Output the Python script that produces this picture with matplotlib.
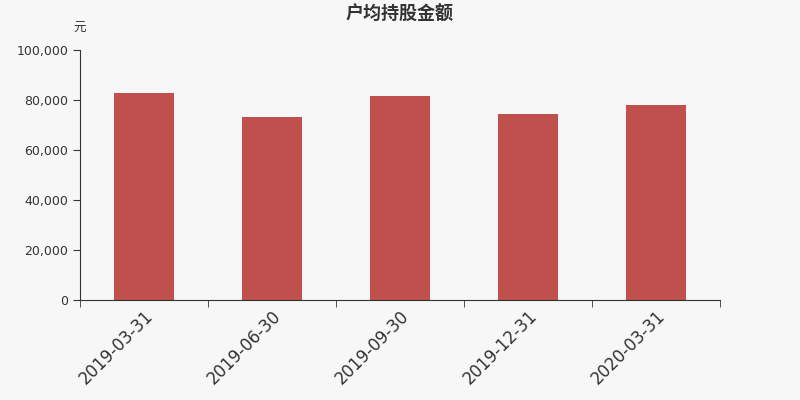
import matplotlib.pyplot as plt
from matplotlib.ticker import FuncFormatter, FixedLocator
import numpy as np

plt.rcParams['font.family'] = ['Noto Sans CJK SC', 'DejaVu Sans']

dates = ['2019-03-31', '2019-06-30', '2019-09-30', '2019-12-31', '2020-03-31']
amount = [82700, 73100, 81500, 74300, 77900]

bg = '#f7f7f7'
fig = plt.figure(figsize=(8, 4), dpi=100, facecolor=bg)
ax = fig.add_axes([0.1, 0.25, 0.8, 0.625], facecolor=bg)

x = np.arange(len(dates))
ax.bar(x, amount, width=0.47, color='#c0504d')

ax.set_xlim(-0.5, len(dates) - 0.5)
ax.set_ylim(0, 100000)
ax.set_yticks(range(0, 100001, 20000))
ax.yaxis.set_major_formatter(FuncFormatter(lambda v, p: f'{int(v):,}'))
for lab in ax.get_yticklabels():
    lab.set_family('DejaVu Sans')

ax.set_xticks(x)
ax.set_xticklabels(dates, rotation=45, ha='right', rotation_mode='anchor',
                   fontsize=12, color='#333333', family='DejaVu Sans')
ax.xaxis.set_minor_locator(FixedLocator(np.arange(-0.5, len(dates), 1)))
ax.tick_params(axis='x', which='major', length=0, pad=5)
ax.tick_params(axis='x', which='minor', length=5, color='#333333')
ax.tick_params(axis='y', length=5, color='#333333', labelsize=9, labelcolor='#333333')
for lab in ax.get_yticklabels():
    lab.set_family('DejaVu Sans')

for s in ['top', 'right']:
    ax.spines[s].set_visible(False)
for s in ['left', 'bottom']:
    ax.spines[s].set_color('#333333')

fig.text(0.5, 0.965, '户均持股金额', ha='center', va='center', fontsize=13,
         fontweight='bold', color='#333333')
fig.text(0.099, 0.93, '元', ha='center', va='center', fontsize=9, color='#333333')

fig.savefig('out.png', dpi=100, facecolor=bg)
